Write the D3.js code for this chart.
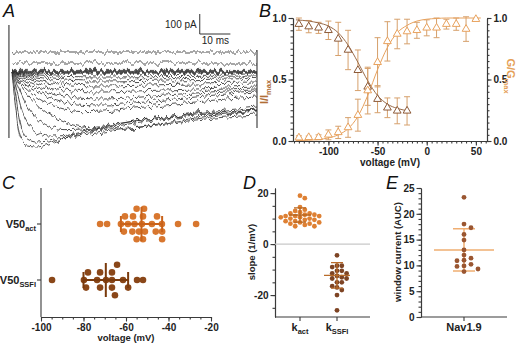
<!DOCTYPE html>
<html>
<head>
<meta charset="utf-8">
<style>
  body { margin: 0; background: #fff; }
  svg { font-family: "Liberation Sans", Arial, sans-serif; }
  .axis path, .axis line { stroke: #3a3a3a; stroke-width: 1.1px; }
  .axis text { font-weight: bold; font-size: 10px; fill: #222; font-family: "Liberation Sans", Arial, sans-serif; }
  .lbl { font-weight: bold; fill: #222; }
  .panel { font-style: italic; font-size: 18px; fill: #111; }
</style>
</head>
<body>
<svg id="fig" width="520" height="344"></svg>
<script src="https://cdn.jsdelivr.net/npm/d3@7"></script>
<script>
// ---- A: Nav1.9 current traces (pA)
const traceTimes = [0, 1, 2, 3, 5, 8, 12, 17, 23, 30, 40, 50, 60, 70, 80];
const traces = [
  [95, 100, 100, 100, 100, 100, 100, 100, 100, 100, 100, 100, 100, 100, 100],
  [40, 45, 45, 45, 45, 45, 45, 45, 45, 45, 45, 45, 45, 45, 45],
  [8, 8, 8, 8, 8, 8, 8, 8, 8, 8, 8, 8, 8, 8, 8],
  [3, 3, 3, 3, 3, 3, 3, 3, 3, 3, 3, 3, 3, 3, 3],
  [0, 0, 0, 0, 0, 0, 0, 0, 0, 0, 0, 0, 0, 0, 0],
  [0, -2, -3, -3, -3, -3, -3, -3, -3, -3, -3, -3, -3, -3, -3],
  [0, -3, -5, -6, -6, -6, -6, -6, -6, -6, -6, -6, -6, -6, -6],
  [0, -2, -4, -6, -10, -14, -18, -22, -24, -25, -24, -23, -22, -21, -20],
  [0, -3, -6, -10, -16, -25, -33, -40, -44, -45, -43, -40, -38, -35, -32],
  [0, -4, -8, -14, -24, -38, -52, -62, -68, -70, -67, -63, -60, -57, -55],
  [0, -5, -12, -20, -35, -55, -75, -90, -98, -100, -95, -90, -85, -80, -75],
  [0, -8, -18, -30, -50, -75, -100, -120, -132, -135, -128, -115, -105, -95, -90],
  [0, -10, -25, -40, -65, -95, -125, -150, -162, -165, -155, -140, -125, -110, -100],
  [0, -15, -35, -55, -85, -125, -160, -185, -198, -195, -180, -165, -150, -135, -125],
  [0, -20, -45, -70, -110, -160, -210, -250, -275, -285, -278, -255, -230, -210, -195],
  [0, -30, -70, -110, -170, -230, -270, -288, -285, -270, -245, -225, -205, -190, -175],
  [0, -50, -120, -180, -250, -300, -320, -318, -300, -275, -245, -225, -210, -200, -190],
  [0, -90, -200, -280, -335, -350, -345, -330, -315, -300, -280, -260, -240, -225, -215],
  [0, -150, -280, -340, -370, -375, -360, -330, -305, -282, -255, -232, -215, -203, -192]
];
const transientTimes = [-1, 80];
const transientHigh = [235, 110];
const transientLow = [-330, -280];
const barPA = 100, barMS = 10;

// ---- B: steady-state inactivation and activation
const inactV = [-130, -120, -110, -100, -90, -80, -70, -60, -50, -40, -30, -20];
const inactMean = [0.95, 0.93, 0.92, 0.90, 0.83, 0.74, 0.575, 0.44, 0.34, 0.27, 0.245, 0.245];
const inactSD = [0.05, 0.05, 0.045, 0.075, 0.135, 0.16, 0.165, 0.15, 0.11, 0.08, 0.105, 0.115];
const inactFitV = [-133, -120, -110, -100, -90, -80, -70, -60, -50, -40, -30, -18];
const inactFit = [0.985, 0.975, 0.96, 0.935, 0.88, 0.78, 0.64, 0.49, 0.37, 0.3, 0.265, 0.245];

const actV = [-130, -120, -110, -100, -90, -80, -70, -60, -50, -40, -30, -20, -10, 0, 10, 20, 30, 40, 50];
const actMean = [0.027, 0.03, 0.03, 0.05, 0.07, 0.11, 0.21, 0.41, 0.64, 0.81, 0.87, 0.89, 0.90, 0.92, 0.92, 0.95, 0.95, 0.91, 0.99];
const actSD = [0.015, 0.01, 0.02, 0.04, 0.05, 0.08, 0.13, 0.19, 0.2, 0.16, 0.12, 0.1, 0.065, 0.065, 0.08, 0.04, 0.05, 0.1, 0.0];
const actFitV = [-133, -120, -110, -100, -90, -80, -70, -60, -50, -40, -30, -20, -10, 0, 10, 20, 30, 40, 55];
const actFit = [0.003, 0.006, 0.012, 0.025, 0.05, 0.1, 0.2, 0.37, 0.58, 0.76, 0.88, 0.94, 0.975, 0.99, 0.996, 1, 1, 1, 1];

// ---- C: V50 values (mV)
const v50act = [-72.2, -68.9, -62.4, -59.1, -56.7, -53.9, -51.1, -47.8, -45.4, -43.1, -35.5, -27,
  -61, -57, -52, -46, -43, -55, -51.5, -60.5, -55, -52, -43, -56, -52.5];
const v50ssfi = [-94.8, -79.8, -73.6, -69.4, -65.2, -61.4, -59, -54.8, -52, -78.8, -72.2, -64.2,
  -66.6, -77.9, -72.2, -66.6, -66.6];
const v50Mean = [-52.7, -69.5];
const v50SD = [9.7, 10.5];

// ---- D: slopes (1/mV)
const kact = [19, 18, 14.5, 13.5, 13, 12.5, 12, 12, 11.5, 11, 11, 11, 10.5, 10.5, 10, 10, 9.5, 9.5,
  9, 9, 8.5, 8.5, 8, 8, 7.5, 7, 7, 11.5];
const kssfi = [-4.4, -8.5, -8.5, -9, -10.5, -10.5, -11.5, -11.5, -12.5, -13, -13.5, -13.5, -15, -15,
  -16.5, -17, -18, -20, -26];
const kMean = [11.4, -12.3];
const kSD = [2.8, 5];

// ---- E: window current (AUC)
const auc = [23.2, 18.0, 17.3, 16.0, 14.9, 13.0, 12.0, 11.4, 11.0, 10.9, 10.2, 9.9, 9.8, 9.3, 8.8];
const aucMean = 13.0, aucSD = 4.1;

const svg = d3.select("#fig");

// greedy beeswarm: returns [{v, p, off}]
function swarm(vals, pos, minDist, step) {
  const placed = [];
  vals.map(v => ({ v: v, p: pos(v) }))
    .sort((a, b) => a.p - b.p)
    .forEach(d => {
      for (let k = 0; k < 40; k++) {
        const off = (k % 2 ? 1 : -1) * Math.ceil(k / 2) * step;
        if (placed.every(q => Math.hypot(q.p - d.p, q.off - off) >= minDist)) {
          d.off = off; placed.push(d); break;
        }
      }
    });
  return placed;
}

function axis(fn, scale, major, minor, fmt, transform) {
  const g = svg.append("g").attr("transform", transform);
  if (minor) g.append("g").attr("class", "axis")
    .call(fn(scale).tickValues(minor).tickSize(2.5).tickSizeOuter(0).tickFormat(""));
  g.append("g").attr("class", "axis")
    .call(fn(scale).tickValues(major).tickSize(4.5).tickSizeOuter(0).tickPadding(2).tickFormat(fmt));
  return g;
}

function subLabel(x, y, main, sub, size, color, rotate, anchor) {
  const t = svg.append("text").attr("class", "lbl")
    .attr("transform", "translate(" + x + "," + y + ")" + (rotate ? " rotate(" + rotate + ")" : ""))
    .attr("text-anchor", anchor || "middle")
    .style("font-size", size + "px").style("fill", color || "#222");
  t.append("tspan").text(main);
  t.append("tspan").attr("dy", size * 0.3).style("font-size", (size * 0.68) + "px").text(sub);
  return t;
}

// ================= A =================
const tX = d3.scaleLinear().domain([0, 80]).range([12, 257]);
const iY = d3.scaleLinear().domain([0, barPA]).range([72, 52]);

// recording noise: vertical-only jitter of the traces
const filt = svg.append("defs").append("filter").attr("id", "noisy")
  .attr("filterUnits", "userSpaceOnUse")
  .attr("x", 0).attr("y", 30).attr("width", 270).attr("height", 135);
filt.append("feTurbulence").attr("type", "fractalNoise")
  .attr("baseFrequency", "0.3 0.04").attr("numOctaves", 2).attr("seed", 4).attr("result", "n");
filt.append("feColorMatrix").attr("in", "n").attr("type", "matrix")
  .attr("values", "0 0 0 0 0.5  0 1 0 0 0  0 0 0 0 0  0 0 0 0 1").attr("result", "m");
filt.append("feDisplacementMap").attr("in", "SourceGraphic").attr("in2", "m")
  .attr("scale", 9).attr("xChannelSelector", "R").attr("yChannelSelector", "G");

const traceLine = d3.line()
  .x((d, i) => tX(traceTimes[i]))
  .y(d => iY(d))
  .curve(d3.curveMonotoneX);

svg.append("g").attr("filter", "url(#noisy)")
  .selectAll("path").data(traces).join("path")
  .attr("d", traceLine)
  .attr("fill", "none").attr("stroke", "#2e2e2e").attr("stroke-width", 0.85);

svg.append("g").selectAll("line").data(transientTimes).join("line")
  .attr("x1", d => tX(d)).attr("x2", d => tX(d))
  .attr("y1", (d, i) => iY(transientHigh[i])).attr("y2", (d, i) => iY(transientLow[i]))
  .attr("stroke", "#333").attr("stroke-width", 1.1);

// scale bar
const sbX = tX(60) + 4, sbY = iY(190);
svg.append("path")
  .attr("d", "M" + sbX + "," + (sbY - (iY(0) - iY(barPA))) + "V" + sbY + "H" + (sbX + tX(barMS) - tX(0)))
  .attr("fill", "none").attr("stroke", "#333").attr("stroke-width", 1);
svg.append("text").attr("x", sbX - 3).attr("y", sbY - 6).attr("text-anchor", "end")
  .style("font-size", "10px").style("fill", "#222").text(barPA + " pA");
svg.append("text").attr("x", sbX + 2).attr("y", sbY + 10)
  .style("font-size", "10px").style("fill", "#222").text(barMS + " ms");

svg.append("text").attr("class", "panel").attr("x", 3).attr("y", 17).text("A");

// ================= B =================
const vX = d3.scaleLinear().domain([-136, 61.3]).range([293, 487]);
const bY = d3.scaleLinear().domain([0, 1]).range([141, 18]);
const cInact = "#8d5a38", cInactFit = "#9a6b48", cAct = "#e8a25e", cErr = "#d6a06c";

axis(d3.axisLeft, bY, [0, 0.5, 1], d3.range(0, 1.001, 0.05), d3.format(".1f"), "translate(293,0)");
axis(d3.axisRight, bY, [0, 0.5, 1], d3.range(0, 1.001, 0.05), d3.format(".1f"), "translate(487,0)");
axis(d3.axisBottom, vX, [-100, -50, 0, 50], d3.range(-135, 61, 5), d => String(d), "translate(0,141)");

svg.append("text").attr("class", "lbl").attr("x", 390).attr("y", 166)
  .attr("text-anchor", "middle").style("font-size", "10px").text("voltage (mV)");
subLabel(268, 92, "I/I", "max", 11, "#b06d36", -90);
subLabel(507, 76, "G/G", "max", 11, "#e59f58", 90);

function errBars(vs, means, sds, color) {
  const g = svg.append("g").attr("stroke", color).attr("stroke-width", 1).attr("fill", "none");
  g.selectAll("path").data(vs).join("path")
    .attr("d", (v, i) => {
      const x = vX(v), y1 = bY(means[i] + sds[i]), y2 = bY(means[i] - sds[i]);
      return "M" + (x - 3) + "," + y1 + "H" + (x + 3) + "M" + x + "," + y1 + "V" + y2 +
        "M" + (x - 3) + "," + y2 + "H" + (x + 3);
    });
}
errBars(inactV, inactMean, inactSD, cErr);
errBars(actV, actMean, actSD, cErr);

svg.append("path").datum(inactFit)
  .attr("d", d3.line().x((d, i) => vX(inactFitV[i])).y(d => bY(d)).curve(d3.curveMonotoneX))
  .attr("fill", "none").attr("stroke", cInactFit).attr("stroke-width", 1);
svg.append("path").datum(actFit)
  .attr("d", d3.line().x((d, i) => vX(actFitV[i])).y(d => bY(d)).curve(d3.curveMonotoneX))
  .attr("fill", "none").attr("stroke", cAct).attr("stroke-width", 1);

const tri = d3.symbol(d3.symbolTriangle, 26);
svg.append("g").selectAll("path").data(inactV).join("path")
  .attr("d", tri).attr("transform", (v, i) => "translate(" + vX(v) + "," + bY(inactMean[i]) + ")")
  .attr("fill", "#fff").attr("stroke", cInact).attr("stroke-width", 1);
svg.append("g").selectAll("path").data(actV).join("path")
  .attr("d", tri).attr("transform", (v, i) => "translate(" + vX(v) + "," + bY(actMean[i]) + ")")
  .attr("fill", "#fff").attr("stroke", cAct).attr("stroke-width", 1);

svg.append("text").attr("class", "panel").attr("x", 259).attr("y", 17).text("B");

// ================= C =================
const cX = d3.scaleLinear().domain([-100, -20]).range([41, 211]);
const cY = d3.scalePoint().domain(["act", "ssfi"]).range([224, 280]);
axis(d3.axisBottom, cX, [-100, -80, -60, -40, -20], d3.range(-100, -19, 5), d => String(d), "translate(0,317)");
svg.append("line").attr("x1", 41).attr("x2", 41).attr("y1", 188).attr("y2", 317)
  .attr("stroke", "#3a3a3a").attr("stroke-width", 1.1);
svg.append("g").selectAll("line").data(cY.domain()).join("line")
  .attr("x1", 37).attr("x2", 41).attr("y1", d => cY(d)).attr("y2", d => cY(d))
  .attr("stroke", "#3a3a3a").attr("stroke-width", 1.1);
subLabel(36, cY("act") + 4, "V50", "act", 11, "#222", 0, "end");
subLabel(36, cY("ssfi") + 4, "V50", "SSFI", 11, "#222", 0, "end");
svg.append("text").attr("class", "lbl").attr("x", 126).attr("y", 341)
  .attr("text-anchor", "middle").style("font-size", "9.5px").text("voltage (mV)");

const cSets = [
  { key: "act", vals: v50act, dot: "#d8772f", bar: "#c9621a" },
  { key: "ssfi", vals: v50ssfi, dot: "#8a4719", bar: "#7a3a0c" }
];
cSets.forEach((s, j) => {
  const y0 = cY(s.key);
  svg.append("g").selectAll("circle").data(swarm(s.vals, cX, 5.6, 7.6)).join("circle")
    .attr("cx", d => d.p).attr("cy", d => y0 + d.off).attr("r", 3.3).attr("fill", s.dot);
  const m = v50Mean[j], sd = v50SD[j];
  svg.append("path")
    .attr("d", "M" + cX(m - sd) + "," + y0 + "H" + cX(m + sd) +
      "M" + cX(m - sd) + "," + (y0 - 8) + "V" + (y0 + 8) +
      "M" + cX(m + sd) + "," + (y0 - 8) + "V" + (y0 + 8) +
      "M" + cX(m) + "," + (y0 - 17) + "V" + (y0 + 17))
    .attr("fill", "none").attr("stroke", s.bar).attr("stroke-width", 2);
});
svg.append("text").attr("class", "panel").attr("x", 2).attr("y", 189).text("C");

// ================= D =================
const dY = d3.scaleLinear().domain([-28.6, 22]).range([317, 188]);
const dX = d3.scalePoint().domain(["act", "ssfi"]).range([300, 337]);
axis(d3.axisLeft, dY, [-20, 0, 20], d3.range(-25, 21, 5), d => String(d), "translate(275,0)");
svg.append("line").attr("x1", 275).attr("x2", 370).attr("y1", dY(0)).attr("y2", dY(0))
  .attr("stroke", "#c8c8c8").attr("stroke-width", 1.2);
svg.append("line").attr("x1", 275).attr("x2", 370).attr("y1", 317).attr("y2", 317)
  .attr("stroke", "#3a3a3a").attr("stroke-width", 1.1);
svg.append("g").selectAll("line").data(dX.domain()).join("line")
  .attr("x1", d => dX(d)).attr("x2", d => dX(d)).attr("y1", 317).attr("y2", 321)
  .attr("stroke", "#3a3a3a").attr("stroke-width", 1.1);
subLabel(300, 331, "k", "act", 11, "#222");
subLabel(337, 331, "k", "SSFI", 11, "#222");
svg.append("text").attr("class", "lbl")
  .attr("transform", "translate(255,252) rotate(-90)")
  .attr("text-anchor", "middle").style("font-size", "9.5px").text("slope (1/mV)");

const dSets = [
  { key: "act", vals: kact, dot: "#de8033", bar: "#b8661f", half: 11 },
  { key: "ssfi", vals: kssfi, dot: "#7e4424", bar: "#b86b2a", half: 13 }
];
dSets.forEach((s, j) => {
  const x0 = dX(s.key);
  svg.append("g").selectAll("circle").data(swarm(s.vals, dY, 4.4, 4.8)).join("circle")
    .attr("cx", d => x0 + d.off).attr("cy", d => d.p).attr("r", 2.4).attr("fill", s.dot);
  const m = kMean[j], sd = kSD[j];
  svg.append("path")
    .attr("d", "M" + x0 + "," + dY(m + sd) + "V" + dY(m - sd) +
      "M" + (x0 - 6) + "," + dY(m + sd) + "H" + (x0 + 6) +
      "M" + (x0 - 6) + "," + dY(m - sd) + "H" + (x0 + 6) +
      "M" + (x0 - s.half) + "," + dY(m) + "H" + (x0 + s.half))
    .attr("fill", "none").attr("stroke", s.bar).attr("stroke-width", 1.3);
});
svg.append("text").attr("class", "panel").attr("x", 243).attr("y", 189).text("D");

// ================= E =================
const eY = d3.scaleLinear().domain([0, 25]).range([317, 188]);
const eX = 464;
axis(d3.axisLeft, eY, [0, 5, 10, 15, 20, 25], d3.range(0, 25.1, 1), d => String(d), "translate(421,0)");
svg.append("line").attr("x1", 421).attr("x2", 507).attr("y1", 317).attr("y2", 317)
  .attr("stroke", "#3a3a3a").attr("stroke-width", 1.1);
svg.append("line").attr("x1", eX).attr("x2", eX).attr("y1", 317).attr("y2", 321)
  .attr("stroke", "#3a3a3a").attr("stroke-width", 1.1);
svg.append("text").attr("class", "lbl").attr("x", eX).attr("y", 331)
  .attr("text-anchor", "middle").style("font-size", "11px").text("Nav1.9");
svg.append("text").attr("class", "lbl")
  .attr("transform", "translate(401,252) rotate(-90)")
  .attr("text-anchor", "middle").style("font-size", "9.5px").text("window current (AUC)");

svg.append("path")
  .attr("d", "M" + eX + "," + eY(aucMean + aucSD) + "V" + eY(aucMean - aucSD) +
    "M" + (eX - 11) + "," + eY(aucMean + aucSD) + "H" + (eX + 11) +
    "M" + (eX - 11) + "," + eY(aucMean - aucSD) + "H" + (eX + 11) +
    "M" + (eX - 30) + "," + eY(aucMean) + "H" + (eX + 30))
  .attr("fill", "none").attr("stroke", "#f0ae72").attr("stroke-width", 1.5);
svg.append("g").selectAll("circle").data(swarm(auc, eY, 4.8, 7)).join("circle")
  .attr("cx", d => eX + d.off).attr("cy", d => d.p).attr("r", 2.4).attr("fill", "#9a5631");
svg.append("text").attr("class", "panel").attr("x", 386).attr("y", 189).text("E");
</script>
</body>
</html>
